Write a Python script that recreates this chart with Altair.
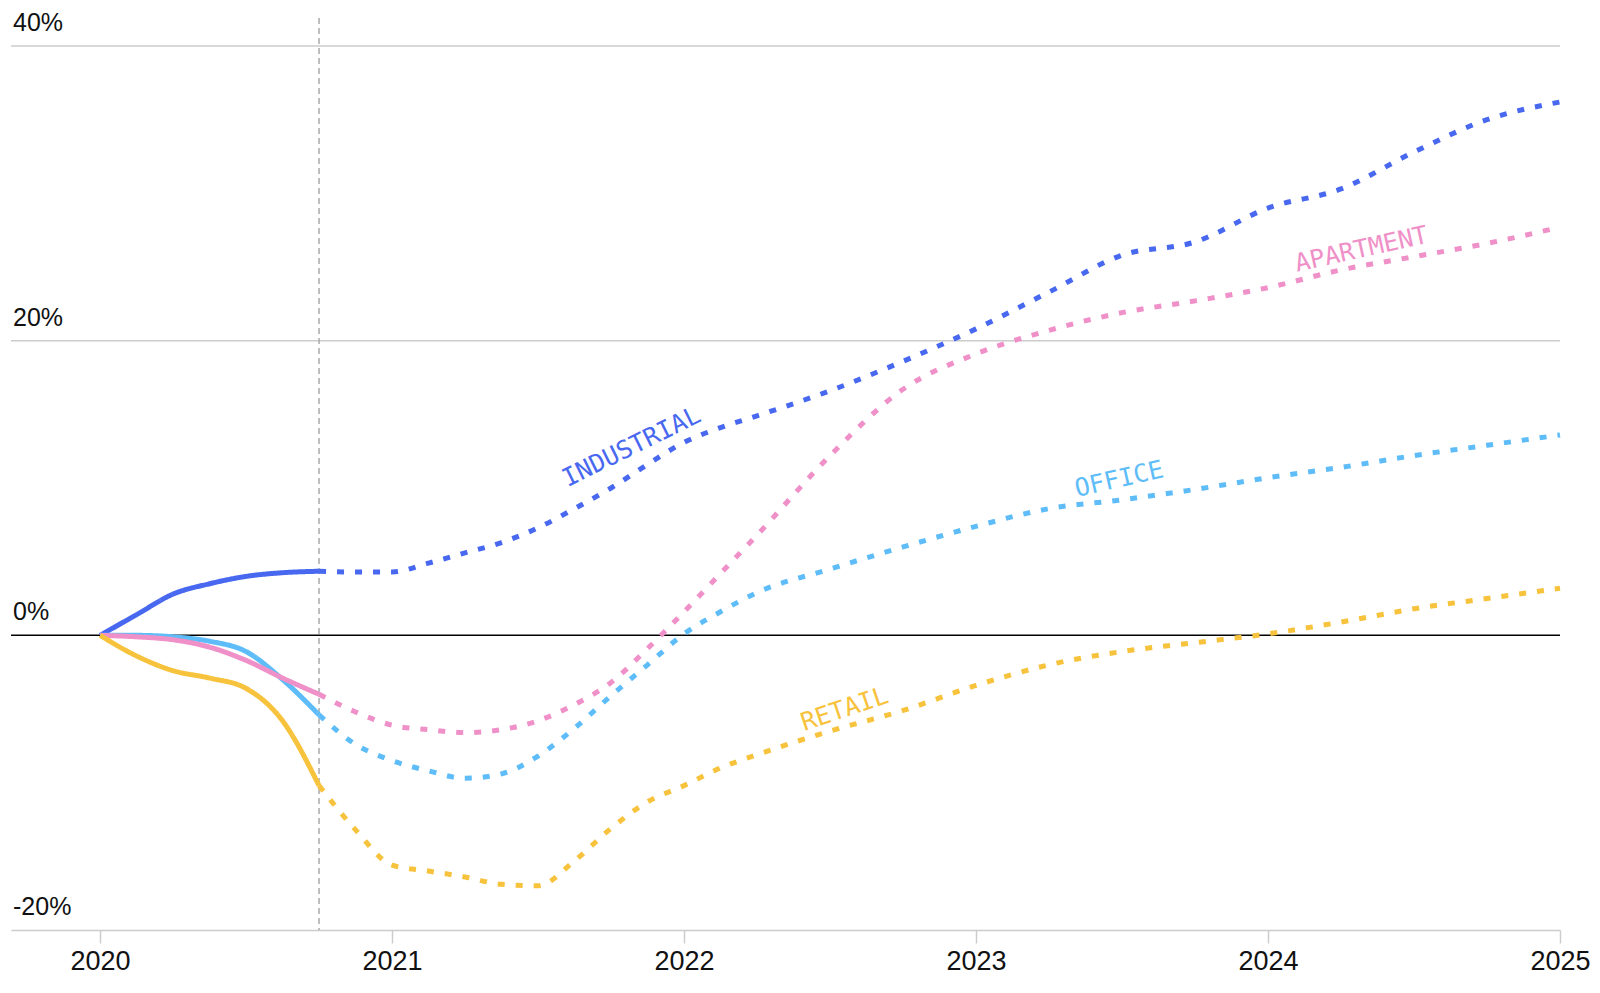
import altair as alt
import pandas as pd

# ---- data -------------------------------------------------------------
categories = ["INDUSTRIAL", "OFFICE", "APARTMENT", "RETAIL"]
colors = ["#4868F0", "#5EBDF8", "#EF90C8", "#F7C23C"]

years_actual = [2020.0, 2020.125, 2020.25, 2020.375, 2020.5, 2020.625, 2020.75]
years_forecast = [2020.75, 2020.875, 2021.0, 2021.125, 2021.25, 2021.375, 2021.5,
                  2021.625, 2021.75, 2021.875, 2022.0, 2022.125, 2022.25, 2022.5,
                  2022.75, 2023.0, 2023.25, 2023.5, 2023.75, 2024.0, 2024.25,
                  2024.5, 2024.75, 2025.0]

industrial_actual = [0, 1.4, 2.8, 3.5, 4.0, 4.25, 4.35]
office_actual = [0, 0.0, -0.1, -0.4, -1.1, -3.0, -5.4]
apartment_actual = [0, -0.1, -0.3, -0.8, -1.7, -2.9, -4.0]
retail_actual = [0, -1.4, -2.4, -2.9, -3.6, -5.8, -10.2]

industrial_forecast = [4.35, 4.3, 4.3, 4.9, 5.6, 6.3, 7.3, 8.6, 10.0, 11.6, 13.1, 14.1,
                       14.9, 16.6, 18.6, 20.8, 23.3, 25.8, 26.7, 29.0, 30.3, 32.8,
                       35.0, 36.2]
office_forecast = [-5.4, -7.4, -8.5, -9.2, -9.7, -9.4, -8.2, -6.3, -4.1, -2.0, 0.1, 1.6,
                   2.9, 4.5, 6.0, 7.4, 8.6, 9.2, 9.9, 10.7, 11.4, 12.2, 12.9, 13.6]
apartment_forecast = [-4.0, -5.2, -6.1, -6.4, -6.6, -6.4, -5.8, -4.7, -3.2, -0.9, 1.6,
                      4.2, 6.8, 12.2, 16.7, 19.1, 20.7, 21.9, 22.7, 23.6, 24.8, 25.7,
                      26.6, 27.7]
retail_forecast = [-10.2, -13.2, -15.6, -16.0, -16.4, -16.9, -17.0, -15.3, -13.1, -11.3,
                   -10.2, -9.0, -8.1, -6.5, -5.1, -3.4, -2.0, -1.1, -0.5, 0.1, 0.9,
                   1.8, 2.5, 3.2]

label_x = [2021.82, 2023.49, 2024.32, 2022.55]
label_y = [12.8, 10.6, 26.2, -5.0]
label_angle = [333.8, 347, 347.5, 341.5]

tick_years = [2020, 2021, 2022, 2023, 2024, 2025]
y_ticks = [-20, 0, 20, 40]
y_tick_labels = ["-20%", "0%", "20%", "40%"]
grid_values = [20, 40]
split_year = [2020.75]

# ---- tables -----------------------------------------------------------
actual = dict(zip(categories, [industrial_actual, office_actual, apartment_actual, retail_actual]))
forecast = dict(zip(categories, [industrial_forecast, office_forecast, apartment_forecast, retail_forecast]))

rows = []
for c in categories:
    for yr, v in zip(years_actual, actual[c]):
        rows.append({"year": yr, "value": v, "type": c, "part": "actual", "seg": c + "_a"})
    for yr, v in zip(years_forecast, forecast[c]):
        rows.append({"year": yr, "value": v, "type": c, "part": "forecast", "seg": c + "_f"})
lines_df = pd.DataFrame(rows)

labels_df = pd.DataFrame({"type": categories, "year": label_x, "value": label_y,
                          "angle": label_angle})
yt_df = pd.DataFrame({"value": y_ticks, "label": y_tick_labels})
grid_df = pd.DataFrame({"value": grid_values})
split_df = pd.DataFrame({"year": split_year})

W, H = 1549, 912
xscale = alt.Scale(domain=[2019.695, 2025], nice=False, zero=False)
yscale = alt.Scale(domain=[-20, 41.9], nice=False, zero=False)
xaxis = alt.Axis(values=tick_years, format="d", grid=False, title=None,
                 domainColor="#cccccc", domainWidth=1.5, tickColor="#cccccc",
                 tickWidth=1.5, tickSize=13, labelFontSize=27,
                 labelFont="Liberation Sans", labelColor="#111111",
                 labelPadding=5, labelFlush=False, labelBound=False)
color_scale = alt.Scale(domain=categories, range=colors)

grid = alt.Chart(grid_df).mark_rule(color="#cccccc", strokeWidth=1.5).encode(
    y=alt.Y("value:Q", scale=yscale, axis=None),
    x=alt.value(0), x2=alt.value(W))

zero = alt.Chart(pd.DataFrame({"value": [0]})).mark_rule(color="#000000", strokeWidth=1.5).encode(
    y=alt.Y("value:Q", scale=yscale, axis=None),
    x=alt.value(0), x2=alt.value(W))

split = alt.Chart(split_df).mark_rule(color="#aaaaaa", strokeWidth=1.5, strokeDash=[6, 4]).encode(
    x=alt.X("year:Q", scale=xscale, axis=xaxis),
    y=alt.value(0), y2=alt.value(H))

ylabels = alt.Chart(yt_df).mark_text(align="left", baseline="alphabetic", dy=-15,
                                      fontSize=25, font="Liberation Sans",
                                      color="#111111").encode(
    y=alt.Y("value:Q", scale=yscale, axis=None),
    x=alt.value(2),
    text="label:N")

lines = alt.Chart(lines_df).mark_line(strokeWidth=5, interpolate="monotone",
                                      strokeCap="butt", strokeJoin="round").encode(
    x=alt.X("year:Q", scale=xscale, axis=xaxis),
    y=alt.Y("value:Q", scale=yscale, axis=None),
    color=alt.Color("type:N", scale=color_scale, legend=None),
    strokeDash=alt.StrokeDash("part:N", scale=alt.Scale(domain=["actual", "forecast"],
                                                        range=[[1, 0], [7, 11]]), legend=None),
    detail="seg:N")

labels = alt.Chart(labels_df).mark_text(align="center", baseline="middle", fontSize=25,
                                        font="DejaVu Sans Mono").encode(
    x=alt.X("year:Q", scale=xscale, axis=xaxis),
    y=alt.Y("value:Q", scale=yscale, axis=None),
    color=alt.Color("type:N", scale=color_scale, legend=None),
    angle=alt.Angle("angle:Q", scale=None),
    text="type:N")

chart = alt.layer(grid, zero, split, ylabels, lines, labels).properties(
    width=W, height=H,
    padding={"left": 3, "top": 10, "right": 31, "bottom": 55},
    autosize=alt.AutoSizeParams(type="none"),
    background="white",
).configure_view(stroke=None)

chart.save("out.html", embed_options={"renderer": "svg", "actions": False})
